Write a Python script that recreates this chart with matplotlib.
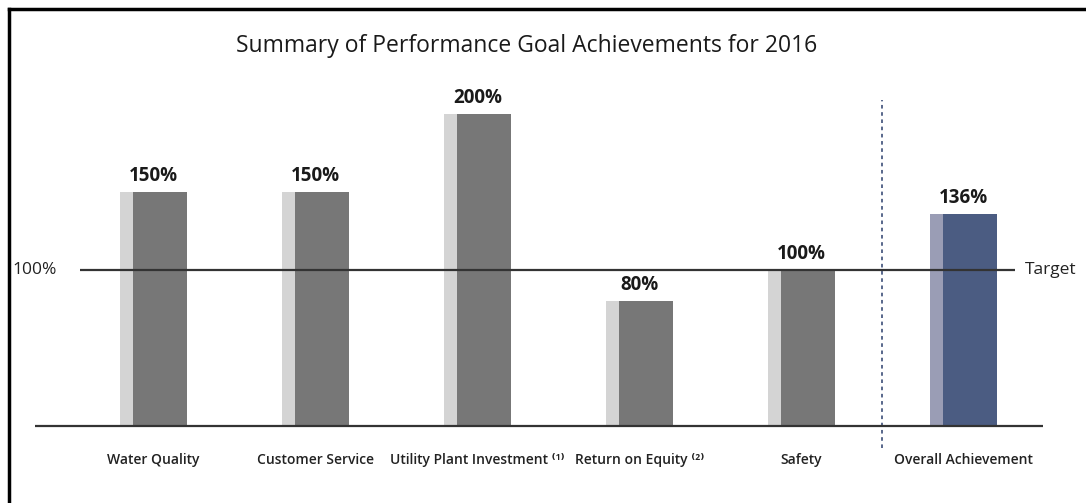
import matplotlib
matplotlib.use("Agg")
import matplotlib.pyplot as plt
from matplotlib.lines import Line2D

categories = ["Water Quality", "Customer Service", "Utility Plant Investment \u207d\u00b9\u207e",
              "Return on Equity \u207d\u00b2\u207e", "Safety", "Overall Achievement"]
values = [150, 150, 200, 80, 100, 136]
value_labels = ["150%", "150%", "200%", "80%", "100%", "136%"]
target = 100
title = "Summary of Performance Goal Achievements for 2016"

light_colors = ["#d4d4d4"] * 5 + ["#9a9db5"]
dark_colors = ["#777777"] * 5 + ["#4b5c82"]

plt.rcParams['font.family'] = ['Open Sans', 'DejaVu Sans']

W, H = 1086, 503
fig = plt.figure(figsize=(W / 100, H / 100), dpi=100)

# axes: x from px 35..1043, y from px 426 (0%) to 90
px_per_unit_x = 162.0
px_per_pct = 1.56
left_px, right_px = 35, 1043
base_px, top_px = 426, 90
ax = fig.add_axes([left_px / W, (H - base_px) / H, (right_px - left_px) / W, (base_px - top_px) / H])
x0 = 153.5
ax.set_xlim((left_px - x0) / px_per_unit_x, (right_px - x0) / px_per_unit_x)
ax.set_ylim(0, (base_px - top_px) / px_per_pct)
ax.axis('off')

xs = list(range(len(categories)))
full_w = 67 / px_per_unit_x
dark_w = 54 / px_per_unit_x
for i, v in enumerate(values):
    ax.bar(xs[i] - full_w / 2, v, width=full_w, align='edge', color=light_colors[i], zorder=2)
    ax.bar(xs[i] + full_w / 2 - dark_w, v, width=dark_w, align='edge', color=dark_colors[i], zorder=3)
    ax.text(xs[i], v + 4, value_labels[i], ha='center', va='bottom',
            fontsize=13.5, fontweight='bold', color='#1a1a1a')
    ax.text(xs[i], -22, categories[i], ha='center', va='center', fontsize=10,
            fontweight='semibold', color='#222222', clip_on=False)

# target line
ax.hlines(target, (80 - x0) / px_per_unit_x, (1015 - x0) / px_per_unit_x, color='#333333', lw=1.6, zorder=4,
          clip_on=False)
ax.text((12 - x0) / px_per_unit_x, target, "100%", ha='left', va='center', fontsize=12.5, color='#222222',
        clip_on=False)
ax.text((1025 - x0) / px_per_unit_x, target, "Target", ha='left', va='center', fontsize=12.5, color='#222222',
        clip_on=False)

# baseline
ax.hlines(0, (left_px - x0) / px_per_unit_x, (right_px - x0) / px_per_unit_x, color='#333333', lw=1.6,
          zorder=5, clip_on=False)

# separator
ax.vlines(4.5, -14, 209, colors='#4b5c82', linestyles=(0, (2, 2)), lw=1.3, clip_on=False)

fig.text(0.485, 1 - 46 / H, title, ha='center', va='center', fontsize=16.5, color='#1a1a1a')

# frame on top and left
fig.add_artist(Line2D([9 / W, 1], [1 - 9 / H, 1 - 9 / H], transform=fig.transFigure, color='black', lw=2.5))
fig.add_artist(Line2D([9 / W, 9 / W], [0, 1 - 9 / H], transform=fig.transFigure, color='black', lw=2.5))

fig.savefig("out.png", dpi=100, facecolor='white')
